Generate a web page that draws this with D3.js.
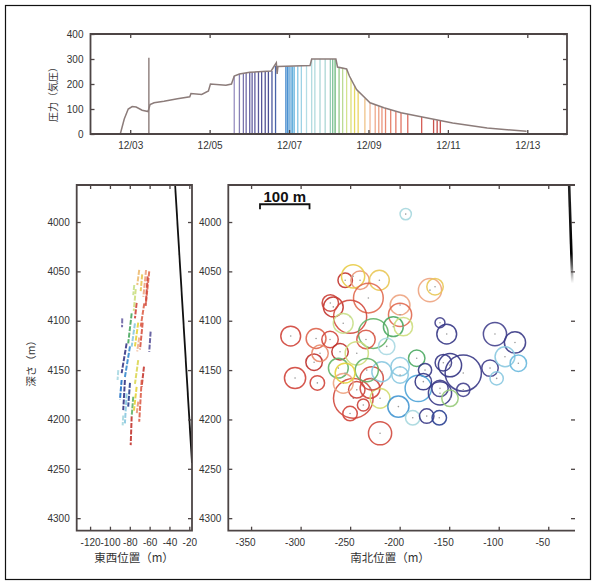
<!DOCTYPE html>
<html>
<head>
<meta charset="utf-8">
<script src="https://cdn.jsdelivr.net/npm/d3@7"></script>
<style>
  body { margin: 0; background: #fff; }
  .jp { font-family: "Noto Sans CJK JP", sans-serif; }
</style>
</head>
<body>
<svg id="fig" width="596" height="585"></svg>
<script>
// pressure history (day of December, atm)
var pressDays = [2.75, 2.85, 2.95, 3.05, 3.15, 3.3, 3.45, 3.5, 3.6, 3.85, 4.19, 4.5, 4.53, 4.8, 4.97, 5.02, 5.41, 5.55, 5.62, 5.75, 6.01, 6.55, 6.62, 6.68, 6.7, 6.72, 7.53, 7.57, 8.18, 8.22, 8.45, 8.52, 8.7, 9.04, 9.39, 9.82, 10.26, 11.12, 11.99, 12.98];
var pressVals = [0, 60, 100, 110, 108, 95, 90, 118, 125, 131, 141, 149, 162, 158, 172, 200, 195, 200, 232, 240, 247, 252, 270, 285, 240, 270, 274, 300, 300, 268, 260, 232, 178, 125, 105, 85, 71, 44, 24, 11];
var spikeDay = 3.47;
var spikeTop = 305;

// induced events: time and pressure at that moment
var eventDays = [5.62, 5.75, 5.85, 5.92, 6.01, 6.07, 6.14, 6.23, 6.31, 6.40, 6.48, 6.57, 6.66, 6.92, 6.96, 7.00, 7.05, 7.09, 7.13, 7.22, 7.31, 7.44, 7.57, 7.65, 7.78, 7.91, 8.04, 8.10, 8.16, 8.26, 8.35, 8.45, 8.56, 8.65, 8.74, 8.91, 9.04, 9.17, 9.26, 9.34, 9.43, 9.56, 9.69, 9.82, 9.99, 10.34, 10.64, 10.73, 10.81];
var eventPress = [232, 240, 242, 244, 247, 248, 248, 249, 249, 250, 250, 252, 272, 270, 270, 270, 270, 270, 270, 271, 272, 274, 300, 300, 301, 300, 300, 300, 299, 268, 265, 260, 222, 195, 172, 142, 125, 117, 111, 107, 103, 96, 90, 85, 80, 68, 58, 55, 52];

var colorDays = [5.6, 6.0, 6.5, 6.9, 7.15, 7.4, 8.0, 8.15, 8.4, 8.7, 9.0, 9.5, 10.3, 10.8];
var colorStops = ['#8a80b8', '#4a4590', '#2c2f80', '#2070c4', '#58b0dc', '#a8d8e2', '#9ccfc8', '#4aa860', '#c8e08a', '#e6d23a', '#f0b08c', '#e26e52', '#d0443a', '#b82a26'];

var dateTicks = [3, 5, 7, 9, 11, 13];
var dateLabels = ['12/03', '12/05', '12/07', '12/09', '12/11', '12/13'];
var pressTicks = [0, 100, 200, 300, 400];
var depthTicks = [4000, 4050, 4100, 4150, 4200, 4250, 4300];
var ewTicks = [-120, -100, -80, -60, -40, -20];
var nsTicks = [-350, -300, -250, -200, -150, -100, -50];

// east-west section: event extents (start/end EW, start/end depth, day)
var segEW1 = [-63.6, -60.4, -70.5, -75.5, -73.1, -65.4, -87.6, -59.0, -78.1, -74.8, -71.5, -67.0, -70.5, -83.2, -79.8, -91.6, -65.7, -71.5, -84.9, -88.2, -83.2, -79.8, -76.5, -73.1, -78.1, -68.0, -71.5, -86.6, -62.0, -67.5, -74.0];
var segD1 = [4048.6, 4050, 4048.6, 4063.8, 4082, 4082.4, 4097.6, 4111, 4092.5, 4102.6, 4102, 4102, 4117, 4123, 4126, 4150, 4146.6, 4140, 4160, 4160, 4173.6, 4163, 4177, 4167, 4197, 4160, 4182, 4196, 4055, 4053, 4068];
var segEW2 = [-66.3, -63.7, -72.5, -76.5, -74.8, -69.0, -87.8, -60.4, -81.6, -78.1, -74.8, -69.7, -72.5, -88.2, -84.9, -92.3, -68.0, -74.8, -86.6, -89.9, -84.9, -81.6, -78.1, -75.8, -79.1, -70.5, -73.1, -87.2, -64.0, -69.0, -76.0];
var segD2 = [4075.7, 4082, 4063.8, 4074, 4097.6, 4106, 4106.7, 4131.4, 4122.9, 4126.3, 4126, 4129, 4131, 4153, 4157, 4160, 4166.9, 4164, 4190.5, 4180, 4204, 4187, 4197, 4191, 4226, 4202.3, 4195, 4206, 4085, 4070, 4090];
var segDay = [9.1, 9.6, 8.9, 8.4, 10.3, 9.7, 5.8, 5.9, 8.15, 7.3, 8.7, 10.0, 9.0, 6.3, 7.0, 7.4, 10.5, 8.6, 6.4, 6.9, 7.3, 6.6, 8.2, 8.7, 10.6, 9.8, 9.2, 7.5, 10.2, 8.8, 8.45];

// plan view: event circles (NS position, depth, radius in m, day)
var circNS = [-193.9, -255, -240, -220.5, -247, -231.6, -169.4, -164.3, -267, -270, -250, -199.6, -199.6, -257, -226.6, -206.4, -196.3, -159.3, -152.5, -103.8, -83.6, -310, -284.4, -270.3, -260.2, -234, -286.4, -280.4, -243.3, -261.9, -182.8, -199.6, -155.9, -149.2, -135.8, -108.8, -93.7, -80.2, -174.4, -305.6, -283.1, -246.8, -243.3, -229.9, -236.7, -250.1, -219.8, -228.2, -256.9, -219.8, -201.3, -199.6, -181.2, -186.8, -172.7, -160, -176.1, -159.3, -159.3, -135.8, -102.1, -149.2, -213.1, -218.1, -233.2, -255.1];
var circDepth = [3992, 4059, 4059, 4059, 4055, 4077, 4069, 4065.5, 4086, 4082, 4096, 4084, 4094, 4102.6, 4113, 4106, 4106, 4102, 4113.5, 4113.5, 4122, 4115.5, 4118, 4119, 4131.4, 4119, 4142, 4133, 4133, 4148, 4138, 4146.6, 4142.5, 4145, 4153, 4148, 4136.5, 4143, 4150, 4158, 4163, 4178.6, 4170, 4168.5, 4185.4, 4194, 4178.6, 4158.4, 4163.4, 4214, 4187, 4155, 4168.5, 4198.3, 4196.6, 4198.3, 4161.7, 4173.5, 4168.5, 4170, 4158.4, 4178.6, 4126, 4151.7, 4150, 4153];
var circR = [5.7, 7.3, 9.3, 10, 11.7, 15, 11.7, 8.3, 10, 8.3, 16.7, 10, 11.7, 10, 15, 10, 9.3, 5, 10, 11.7, 10.7, 10, 10, 8.3, 8.3, 9.3, 8.3, 8.3, 11.7, 10, 8.3, 9.3, 8.3, 11.7, 18.3, 8.3, 10, 8.3, 6.7, 10.7, 7.3, 20, 8.3, 10, 6, 7.3, 10, 11.7, 10, 11.7, 10.7, 8.3, 13.3, 7.3, 7.3, 7.3, 8.3, 11.7, 8.3, 6.7, 6.7, 8.3, 8.3, 10, 11.7, 10];
var circDay = [7.5, 10.6, 9.2, 8.8, 8.75, 9.6, 9.1, 8.8, 10.6, 10.4, 10.2, 9.1, 9.6, 8.4, 8.2, 8.15, 8.45, 6.2, 6.35, 6.1, 6.3, 10.3, 9.7, 10.3, 10.7, 10.0, 10.7, 9.3, 8.45, 8.2, 8.15, 7.3, 6.3, 6.4, 6.3, 6.2, 7.3, 7.2, 6.3, 10.3, 10.3, 10.2, 10.4, 10.3, 10.4, 10.3, 8.5, 10.2, 9.1, 10.2, 7.05, 7.3, 7.1, 7.5, 6.3, 6.6, 6.4, 6.3, 6.2, 6.1, 7.3, 8.3, 7.4, 7.3, 8.2, 8.7];

// well trajectory in the two views
var wellEW = [-34.3, -17.3];
var wellEWDepth = [3962.5, 4244];
var wellNS = [-28.9, -25.7];
var wellNSDepth = [3962.5, 4062];

var frameCol = '#4d4545';
var svg = d3.select('#fig');
var color = d3.scaleLinear().domain(colorDays).range(colorStops).clamp(true);

svg.append('rect')
  .attr('x', 5.5).attr('y', 5.5).attr('width', 585).attr('height', 574)
  .attr('fill', 'none').attr('stroke', '#111').attr('stroke-width', 1.2);

function drawAxes(g, x, y, box, xTicks, yTicks, xFmt, yFmt, openRight) {
  var L = box[0], R = box[1], T = box[2], B = box[3];
  var axes = g.append('g')
    .attr('font-family', '"DejaVu Sans", sans-serif')
    .attr('font-size', 9.5);
  axes.append('g').attr('transform', 'translate(0,' + B + ')')
    .call(d3.axisBottom(x).tickValues(xTicks).tickSize(-4).tickPadding(8).tickFormat(xFmt));
  axes.append('g').attr('transform', 'translate(0,' + T + ')')
    .call(d3.axisTop(x).tickValues(xTicks).tickSize(-4).tickFormat(''));
  axes.append('g').attr('transform', 'translate(' + L + ',0)')
    .call(d3.axisLeft(y).tickValues(yTicks).tickSize(-4).tickPadding(7).tickFormat(yFmt));
  axes.append('g').attr('transform', 'translate(' + R + ',0)')
    .call(d3.axisRight(y).tickValues(yTicks).tickSize(-4).tickFormat(''));
  axes.selectAll('.domain').remove();
  axes.selectAll('.tick line').attr('stroke', frameCol).attr('stroke-width', 1.3);
  axes.selectAll('.tick text').attr('fill', '#333');
  axes.attr('font-family', '"DejaVu Sans", sans-serif');

  var d = openRight
    ? 'M' + R + ',' + T + 'H' + L + 'V' + B + 'H' + R
    : 'M' + L + ',' + T + 'H' + R + 'V' + B + 'H' + L + 'Z';
  g.append('path').attr('d', d)
    .attr('fill', 'none').attr('stroke', frameCol).attr('stroke-width', 1.8);
}

// ---- top panel: pressure vs time ----
var topBox = [90.5, 567, 34, 134];
var xT = d3.scaleLinear().domain([2, 14]).range([topBox[0], topBox[1]]);
var yT = d3.scaleLinear().domain([0, 400]).range([topBox[3], topBox[2]]);
var gTop = svg.append('g');

gTop.selectAll('line.ev')
  .data(eventDays)
  .enter().append('line')
  .attr('class', 'ev')
  .attr('x1', function(d) { return xT(d); })
  .attr('x2', function(d) { return xT(d); })
  .attr('y1', yT(0))
  .attr('y2', function(d, i) { return yT(eventPress[i]); })
  .attr('stroke', function(d) { return color(d); })
  .attr('stroke-width', 1.3)
  .attr('stroke-opacity', 0.85);

gTop.append('line')
  .attr('x1', xT(spikeDay)).attr('x2', xT(spikeDay))
  .attr('y1', yT(0)).attr('y2', yT(spikeTop))
  .attr('stroke', '#8c7c7a').attr('stroke-width', 1.4);

var pressLine = d3.line()
  .x(function(d, i) { return xT(pressDays[i]); })
  .y(function(d) { return yT(d); });
gTop.append('path')
  .attr('d', pressLine(pressVals))
  .attr('fill', 'none').attr('stroke', '#8c7c7a').attr('stroke-width', 1.5);

drawAxes(gTop, xT, yT, topBox, dateTicks, pressTicks,
  function(d, i) { return dateLabels[i]; }, function(d) { return d; }, false);

svg.append('text').attr('class', 'jp')
  .attr('transform', 'translate(57,92) rotate(-90)')
  .attr('text-anchor', 'middle').attr('font-size', 10).attr('fill', '#333')
  .text('圧力（気圧）');

// ---- depth scale shared by both lower panels ----
var y = d3.scaleLinear().domain([3962.5, 4312.7]).range([185, 530.7]);

// ---- left panel: east-west section ----
var leftBox = [76.7, 192, 185, 530.7];
var xL = d3.scaleLinear().domain([-133.5, -17.3]).range([leftBox[0], leftBox[1]]);
var gL = svg.append('g');
svg.append('clipPath').attr('id', 'clipL').append('rect')
  .attr('x', leftBox[0]).attr('y', leftBox[2])
  .attr('width', leftBox[1] - leftBox[0]).attr('height', leftBox[3] - leftBox[2]);

gL.append('g').attr('clip-path', 'url(#clipL)')
  .selectAll('line')
  .data(segDay)
  .enter().append('line')
  .attr('x1', function(d, i) { return xL(segEW1[i]); })
  .attr('y1', function(d, i) { return y(segD1[i]); })
  .attr('x2', function(d, i) { return xL(segEW2[i]); })
  .attr('y2', function(d, i) { return y(segD2[i]); })
  .attr('stroke', function(d) { return color(d); })
  .attr('stroke-width', 2)
  .attr('stroke-dasharray', '5,1.5')
  .attr('stroke-opacity', 0.9);

gL.append('line').attr('clip-path', 'url(#clipL)')
  .attr('x1', xL(wellEW[0])).attr('y1', y(wellEWDepth[0]))
  .attr('x2', xL(wellEW[1])).attr('y2', y(wellEWDepth[1]))
  .attr('stroke', '#111').attr('stroke-width', 1.8);

drawAxes(gL, xL, y, leftBox, ewTicks, depthTicks,
  function(d) { return d; }, function(d) { return d; }, false);

svg.append('text').attr('class', 'jp')
  .attr('transform', 'translate(35,361) rotate(-90)')
  .attr('text-anchor', 'middle').attr('font-size', 10.5).attr('fill', '#333')
  .text('深さ（m）');
svg.append('text').attr('class', 'jp')
  .attr('x', 134).attr('y', 562)
  .attr('text-anchor', 'middle').attr('font-size', 11.5).attr('fill', '#333')
  .text('東西位置（m）');

// ---- right panel: plan view ----
var rightBox = [228.3, 575, 185, 530.7];
var xR = d3.scaleLinear().domain([-373, -23]).range([rightBox[0], rightBox[1]]);
var gR = svg.append('g');

var defs = svg.append('defs');
var grad = defs.append('linearGradient').attr('id', 'wellGrad')
  .attr('gradientUnits', 'userSpaceOnUse')
  .attr('x1', 0).attr('x2', 0)
  .attr('y1', y(wellNSDepth[0])).attr('y2', y(wellNSDepth[1]));
grad.append('stop').attr('offset', 0).attr('stop-color', '#222');
grad.append('stop').attr('offset', 0.7).attr('stop-color', '#000');
grad.append('stop').attr('offset', 1).attr('stop-color', '#fff');

gR.append('line')
  .attr('x1', xR(wellNS[0])).attr('y1', y(wellNSDepth[0]))
  .attr('x2', xR(wellNS[1])).attr('y2', y(wellNSDepth[1]))
  .attr('stroke', 'url(#wellGrad)').attr('stroke-width', 2.6);

var circ = gR.selectAll('g.ev')
  .data(circDay)
  .enter().append('g').attr('class', 'ev');
circ.append('circle')
  .attr('cx', function(d, i) { return xR(circNS[i]); })
  .attr('cy', function(d, i) { return y(circDepth[i]); })
  .attr('r', function(d, i) { return xR(circR[i]) - xR(0); })
  .attr('fill', 'none')
  .attr('stroke', function(d) { return color(d); })
  .attr('stroke-width', 1.5)
  .attr('stroke-opacity', 0.9);
circ.append('circle')
  .attr('cx', function(d, i) { return xR(circNS[i]); })
  .attr('cy', function(d, i) { return y(circDepth[i]); })
  .attr('r', 0.8)
  .attr('fill', '#999');

drawAxes(gR, xR, y, rightBox, nsTicks, depthTicks,
  function(d) { return d; }, function(d) { return d; }, true);
gR.selectAll('.tick text').filter(function() { return this.getAttribute('dy') === '0.71em'; })
  .attr('dx', -6);

// scale bar
var barFrom = -341, barTo = -291, barDepth = 3982;
gR.append('path')
  .attr('d', 'M' + xR(barFrom) + ',' + (y(barDepth) + 5) + 'V' + y(barDepth) +
    'H' + xR(barTo) + 'V' + (y(barDepth) + 5))
  .attr('fill', 'none').attr('stroke', '#111').attr('stroke-width', 1.8);
gR.append('text')
  .attr('x', (xR(barFrom) + xR(barTo)) / 2).attr('y', y(barDepth) - 2)
  .attr('text-anchor', 'middle')
  .attr('font-family', '"Liberation Sans", Arial, sans-serif')
  .attr('font-weight', 'bold').attr('font-size', 15).attr('fill', '#111')
  .text('100 m');

svg.append('text').attr('class', 'jp')
  .attr('x', 390).attr('y', 562)
  .attr('text-anchor', 'middle').attr('font-size', 11.5).attr('fill', '#333')
  .text('南北位置（m）');
</script>
</body>
</html>
